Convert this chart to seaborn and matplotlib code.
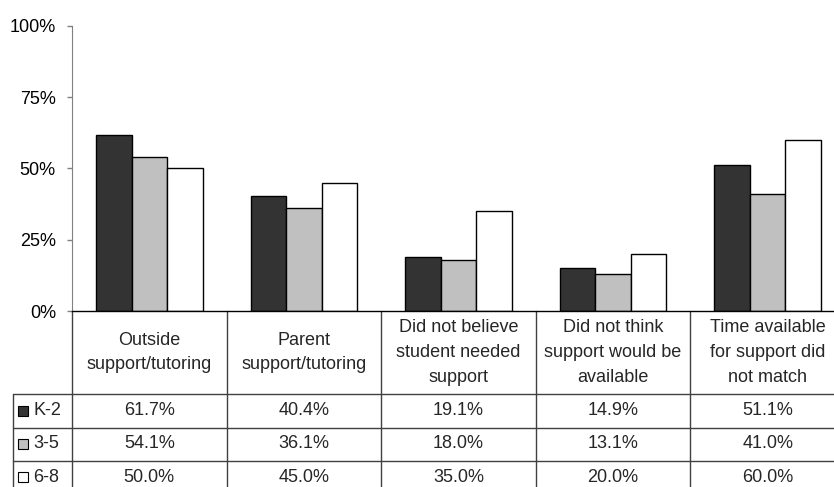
import matplotlib.pyplot as plt
import matplotlib.transforms as mtransforms
import pandas as pd
import seaborn as sns

# chart data
REASONS = [
    "Outside\nsupport/tutoring",
    "Parent\nsupport/tutoring",
    "Did not believe\nstudent needed\nsupport",
    "Did not think\nsupport would be\navailable",
    "Time available\nfor support did\nnot match",
]
GRADES = ["K-2", "3-5", "6-8"]
K2 = [61.7, 40.4, 19.1, 14.9, 51.1]
G3_5 = [54.1, 36.1, 18.0, 13.1, 41.0]
G6_8 = [50.0, 45.0, 35.0, 20.0, 60.0]
Y_TICKS = [0, 25, 50, 75, 100]

COLORS = ["#333333", "#c0c0c0", "#ffffff"]
LINE_COLOR = "#404040"
FS = 13

# layout (pixels on the 834x487 canvas)
W, H = 834, 487
AX_LEFT, AX_RIGHT = 72, 845
AX_TOP, AX_BOTTOM = 25.7, 311
ROW_EDGES_PX = [394, 427.5, 460.5, 494]
TABLE_LEFT_PX = 13


def main() -> None:
    sns.set_style("white")
    plt.rcParams["font.family"] = ["Liberation Sans", "DejaVu Sans"]
    plt.rcParams["font.size"] = FS

    df = pd.DataFrame({
        "reason": REASONS * 3,
        "grade": [g for g in GRADES for _ in REASONS],
        "value": K2 + G3_5 + G6_8,
    })

    fig = plt.figure(figsize=(W / 100, H / 100), dpi=100)
    ax = fig.add_axes([AX_LEFT / W, (H - AX_BOTTOM) / H,
                       (AX_RIGHT - AX_LEFT) / W, (AX_BOTTOM - AX_TOP) / H])

    sns.barplot(data=df, x="reason", y="value", hue="grade",
                order=REASONS, hue_order=GRADES, palette=COLORS,
                width=0.69, gap=0, edgecolor="black", linewidth=1,
                saturation=1, legend=False, ax=ax)

    ax.set_xlim(-0.5, len(REASONS) - 0.5)
    ax.set_ylim(0, 100)
    ax.set_yticks(Y_TICKS)
    ax.set_yticklabels([f"{t}%" for t in Y_TICKS])
    ax.set_xticks([])
    ax.set_xlabel("")
    ax.set_ylabel("")
    ax.tick_params(axis="y", left=True, length=3.6, width=1, pad=8,
                   color="#808080", labelsize=FS, labelcolor="black")
    for side in ["top", "right"]:
        ax.spines[side].set_visible(False)
    ax.spines["left"].set_color("#808080")
    ax.spines["bottom"].set_color("black")
    ax.spines["bottom"].set_linewidth(1)

    # data table under the axis
    ax_h = AX_BOTTOM - AX_TOP
    col_w = (AX_RIGHT - AX_LEFT) / len(REASONS)
    to_y = lambda px: (AX_BOTTOM - px) / ax_h
    to_x = lambda px: -0.5 - (AX_LEFT - px) / col_w
    row_y = [to_y(p) for p in ROW_EDGES_PX]
    x_left = to_x(TABLE_LEFT_PX)
    x_right = len(REASONS) - 0.5
    tr = mtransforms.blended_transform_factory(ax.transData, ax.transAxes)
    line_kw = dict(color=LINE_COLOR, lw=1, transform=tr, clip_on=False)

    for i in range(len(REASONS) + 1):
        ax.plot([i - 0.5, i - 0.5], [0, row_y[-1]], **line_kw)
    ax.plot([x_left, x_left], [row_y[0], row_y[-1]], **line_kw)
    for y in row_y:
        ax.plot([x_left, x_right], [y, y], **line_kw)

    for i, label in enumerate(REASONS):
        ax.text(i, row_y[0] / 2, label, ha="center", va="center",
                fontsize=FS, linespacing=1.6, transform=tr)

    series = [K2, G3_5, G6_8]
    for r, (grade, vals, color) in enumerate(zip(GRADES, series, COLORS)):
        yc = (row_y[r] + row_y[r + 1]) / 2
        ax.plot([to_x(23)], [yc], marker="s", markersize=7.5,
                mfc=color, mec="black", mew=0.8,
                transform=tr, clip_on=False)
        ax.text(to_x(33), yc, grade, ha="left", va="center",
                fontsize=FS, transform=tr)
        for i, v in enumerate(vals):
            ax.text(i, yc, f"{v:.1f}%", ha="center", va="center",
                    fontsize=FS, transform=tr)

    fig.savefig("out.png", dpi=100)
    plt.close(fig)


if __name__ == "__main__":
    main()
